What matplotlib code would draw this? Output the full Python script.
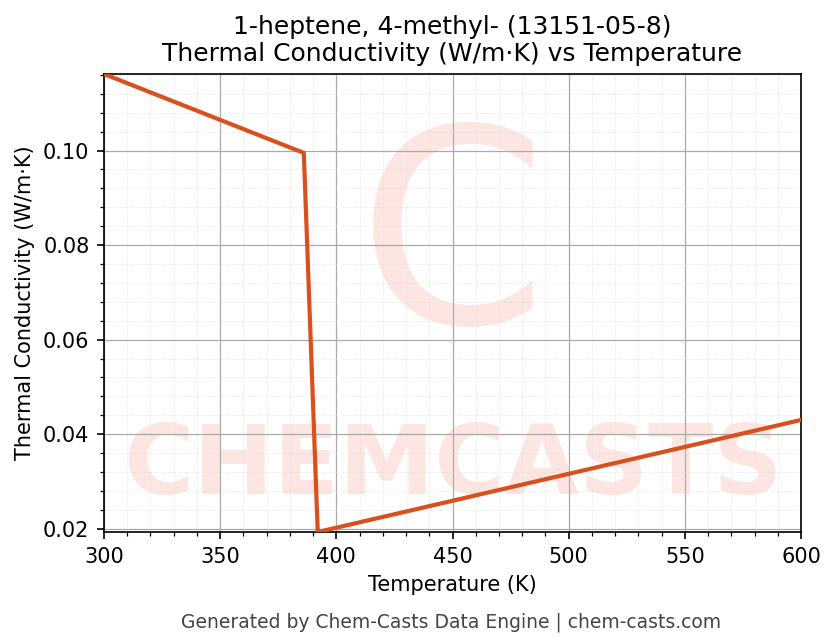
import matplotlib
matplotlib.use("Agg")
import matplotlib.pyplot as plt
from matplotlib.ticker import MultipleLocator

# data
temps = [300, 386, 392, 600]
conductivity = [0.1162, 0.0995, 0.0193, 0.0430]

fig = plt.figure(figsize=(836 / 150, 644 / 150), dpi=150)
ax = fig.add_axes([104 / 836, 1 - 532 / 644, 697 / 836, 458 / 644])

# faint watermark
ax.text(0.5, 0.14, "CHEMCASTS", transform=ax.transAxes, ha="center", va="center",
        fontsize=46, fontweight="bold", color="#fde6e2", zorder=0, clip_on=True)
ax.text(0.5, 0.62, "C", transform=ax.transAxes, ha="center", va="center",
        fontsize=130, color="#fde6e2", zorder=0, clip_on=True)

ax.plot(temps, conductivity, color="#d9501e", linewidth=2, zorder=3)

ax.set_xlim(300, 600)
ax.set_ylim(0.0193, 0.1162)
ax.xaxis.set_major_locator(MultipleLocator(50))
ax.xaxis.set_minor_locator(MultipleLocator(10))
ax.yaxis.set_major_locator(MultipleLocator(0.02))
ax.yaxis.set_minor_locator(MultipleLocator(0.004))
ax.grid(which="major", color="#aaaaaa", linewidth=0.6)
ax.grid(which="minor", color="#dddddd", linewidth=0.4, linestyle=":")
ax.set_axisbelow(True)

ax.set_xlabel("Temperature (K)")
ax.set_ylabel("Thermal Conductivity (W/m·K)")
ax.set_title("1-heptene, 4-methyl- (13151-05-8)\nThermal Conductivity (W/m·K) vs Temperature", fontsize=12)
fig.text(0.54, 0.025, "Generated by Chem-Casts Data Engine | chem-casts.com",
         ha="center", fontsize=9, color="#444444")

fig.savefig("out.png", dpi=150)
